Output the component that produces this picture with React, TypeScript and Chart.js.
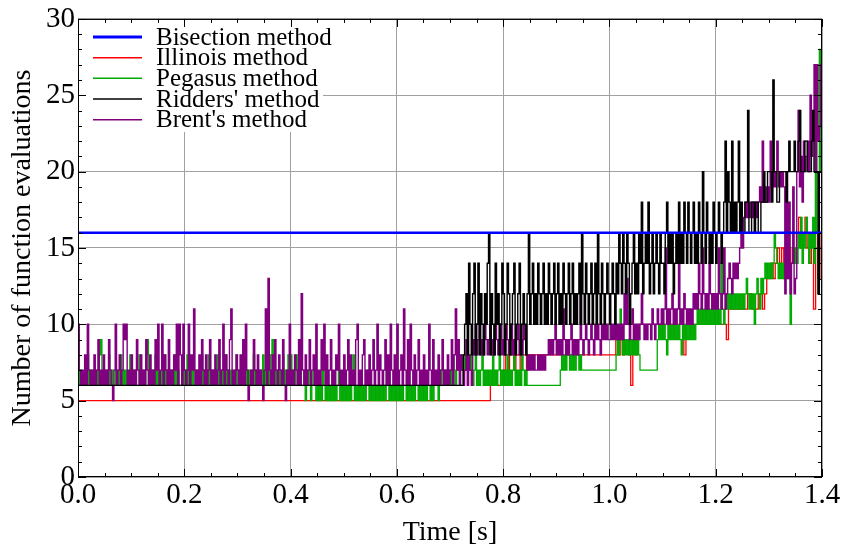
import React, { useEffect, useRef } from "react";
import { Chart, registerables } from "chart.js";

Chart.register(...registerables);

// Sampling periods of the recorded iteration counts (seconds)
const DT_FINE = 0.0025;
const DT_COARSE = 0.004;
const T_END = 1.4;

// Axis ticks
const X_TICK_VALUES = [0, 0.2, 0.4, 0.6, 0.8, 1.0, 1.2, 1.4];
const X_TICK_LABELS = ["0.0", "0.2", "0.4", "0.6", "0.8", "1.0", "1.2", "1.4"];
const Y_TICK_VALUES = [0, 5, 10, 15, 20, 25, 30];
const Y_TICK_LABELS = ["0", "5", "10", "15", "20", "25", "30"];

// Bisection: fixed number of evaluations
const BISECTION = [16];

// Illinois: constant 5 until it starts to climb at 0.776 s
const ILLINOIS_LEAD = [5];
const ILLINOIS_MAIN = [
  6, 6, 6, 6, 6, 6,
  7, 8, 7, 8, 8, 7, 8, 8, 7, 8,
  8, 7, 8, 8, 8, 8, 8, 8, 8, 8,
  8, 8, 8, 8, 8, 8, 8, 8, 8, 8,
  8, 8, 8, 8, 8, 8, 8, 8, 8, 8,
  8, 8, 8, 8, 8, 8, 8, 8, 8, 8,
  8, 8, 8, 9, 8, 9, 8, 9, 9, 8,
  6, 9, 8, 9, 10, 10, 10, 10, 10, 10,
  10, 10, 10, 10, 10, 10, 10, 10, 10, 10,
  10, 10, 10, 10, 10, 8, 10, 10, 10, 10,
  10, 10, 10, 10, 10, 10, 10, 10, 10, 10,
  10, 10, 10, 10, 10, 9, 11, 11, 11, 11,
  11, 11, 11, 11, 11, 12, 12, 11, 11, 11,
  12, 12, 11, 12, 13, 13, 14, 13, 14, 15,
  14, 15, 13, 14, 15, 14, 15, 14, 16, 17,
  15, 16, 17, 15, 14, 16, 11, 16, 13, 16,
];

// Pegasus, one block per 0.2 s (fine sampling)
const PEGASUS_0 = [
  7, 6, 7, 6, 6, 7, 6, 8, 6, 7,
  6, 7, 6, 6, 7, 6, 8, 9, 6, 7,
  6, 7, 6, 8, 6, 7, 6, 6, 7, 6,
  7, 6, 8, 6, 7, 6, 7, 6, 6, 8,
  6, 7, 6, 7, 6, 6, 8, 7, 6, 7,
  6, 8, 9, 6, 7, 6, 7, 6, 8, 6,
  7, 6, 6, 7, 6, 8, 6, 7, 6, 7,
  6, 7, 6, 8, 6, 7, 6, 6, 7, 6,
];
const PEGASUS_1 = [
  7, 6, 8, 6, 7, 6, 7, 6, 6, 7,
  6, 7, 6, 8, 6, 7, 6, 7, 8, 6,
  7, 6, 7, 6, 6, 8, 6, 7, 6, 7,
  6, 8, 6, 7, 6, 7, 6, 6, 7, 8,
  6, 7, 6, 7, 8, 6, 7, 6, 7, 6,
  7, 6, 8, 6, 7, 6, 6, 7, 6, 8,
  6, 7, 6, 7, 6, 8, 9, 6, 7, 6,
  7, 6, 7, 6, 8, 6, 7, 6, 8, 7,
];
const PEGASUS_2 = [
  8, 6, 7, 6, 8, 7, 6, 7, 6, 6,
  7, 5, 6, 7, 6, 5, 6, 7, 6, 5,
  6, 5, 6, 5, 7, 6, 5, 6, 5, 6,
  5, 6, 5, 6, 5, 6, 7, 5, 6, 5,
  6, 5, 6, 5, 6, 5, 6, 8, 5, 6,
  5, 6, 5, 6, 5, 6, 5, 6, 7, 5,
  6, 5, 6, 5, 6, 5, 6, 5, 6, 5,
  6, 5, 7, 6, 5, 6, 5, 6, 5, 6,
];
const PEGASUS_3 = [
  5, 6, 5, 6, 5, 6, 6, 5, 6, 5,
  6, 5, 6, 5, 6, 6, 5, 6, 5, 6,
  5, 6, 5, 6, 6, 5, 6, 5, 6, 6,
  6, 5, 6, 7, 6, 6, 7, 6, 7, 6,
  7, 6, 8, 7, 6, 7, 8, 7, 8, 7,
  8, 7, 8, 7, 8, 7, 8, 6, 7, 8,
  6, 7, 6, 7, 8, 6, 7, 6, 7, 6,
  7, 6, 8, 6, 7, 6, 7, 8, 6, 7,
];
const PEGASUS_4 = [
  6, 7, 6, 8, 6, 7, 6, 7, 8, 6,
  7, 6, 7, 6, 8, 7, 6, 7, 6, 6,
  6, 6, 6, 6, 6, 6, 6, 6, 6, 6,
  6, 6, 6, 6, 6, 6, 6, 6, 6, 6,
  6, 6, 6, 7, 8, 7, 8, 7, 9, 8,
  7, 8, 7, 8, 7, 9, 8, 7, 8, 7,
  7, 7, 7, 7, 7, 7, 7, 7, 7, 7,
  7, 7, 7, 7, 7, 7, 7, 7, 7, 7,
];
const PEGASUS_5 = [
  7, 7, 7, 7, 7, 8, 9, 8, 11, 9,
  8, 9, 8, 9, 8, 9, 8, 9, 8, 9,
  8, 9, 8, 7, 7, 7, 7, 7, 7, 7,
  7, 7, 7, 7, 7, 7, 9, 10, 9, 10,
  9, 10, 9, 8, 10, 9, 10, 9, 10, 9,
  10, 9, 10, 9, 8, 10, 9, 10, 9, 10,
  9, 10, 9, 10, 9, 10, 11, 10, 11, 10,
  11, 10, 11, 10, 11, 10, 11, 10, 11, 10,
];
const PEGASUS_6 = [
  11, 10, 11, 10, 14, 11, 10, 11, 12, 11,
  12, 11, 12, 11, 12, 11, 12, 11, 12, 11,
  12, 11, 12, 13, 12, 11, 12, 11, 12, 10,
  12, 13, 12, 11, 13, 12, 13, 14, 13, 14,
  13, 14, 13, 14, 16, 15, 14, 13, 14, 13,
  14, 13, 15, 14, 13, 14, 10, 14, 15, 14,
  15, 14, 16, 15, 17, 14, 16, 15, 17, 16,
  14, 16, 15, 17, 14, 23, 16, 12, 28, 20,
];

// Ridders: flat 6, then the noisy part from 0.725 s (fine sampling)
const RIDDERS_LEAD = [6];
const RIDDERS_3 = [
  6, 6, 6, 6, 6, 6, 6, 6, 6, 6,
  8, 10, 12, 8, 14, 10, 8, 12, 14, 8,
  10, 14, 8, 12, 10, 8, 12, 10, 14, 16,
  8, 12, 10, 8, 14, 10, 12, 8, 10, 14,
];
const RIDDERS_4 = [
  12, 8, 10, 14, 12, 8, 10, 12, 14, 8,
  10, 12, 14, 8, 10, 12, 10, 8, 12, 16,
  10, 12, 14, 10, 12, 10, 14, 12, 10, 12,
  14, 10, 12, 10, 14, 12, 10, 12, 14, 10,
  12, 14, 10, 12, 10, 14, 12, 10, 12, 14,
  10, 12, 14, 10, 12, 10, 12, 14, 10, 16,
  12, 10, 14, 12, 10, 12, 14, 10, 12, 14,
  10, 16, 12, 10, 14, 12, 10, 12, 14, 12,
];
const RIDDERS_5 = [
  10, 12, 14, 12, 10, 14, 12, 16, 14, 12,
  16, 14, 12, 16, 14, 10, 12, 14, 16, 12,
  14, 12, 16, 14, 18, 12, 14, 16, 14, 18,
  12, 14, 16, 12, 14, 16, 14, 12, 16, 14,
  14, 12, 16, 18, 14, 16, 14, 16, 12, 14,
  16, 14, 18, 14, 16, 14, 18, 16, 14, 18,
  16, 14, 16, 18, 14, 16, 14, 18, 16, 14,
  20, 16, 14, 18, 16, 14, 16, 14, 18, 16,
];
const RIDDERS_6 = [
  14, 16, 18, 16, 14, 16, 18, 22, 16, 20,
  18, 16, 22, 16, 18, 16, 18, 22, 16, 18,
  16, 16, 18, 18, 24, 16, 16, 18, 18, 16,
  18, 18, 16, 16, 18, 18, 20, 18, 18, 20,
  20, 20, 18, 26, 20, 20, 18, 18, 20, 20,
  20, 20, 20, 18, 20, 22, 20, 20, 20, 22,
  20, 20, 22, 24, 20, 20, 20, 22, 22, 20,
  20, 20, 22, 24, 20, 20, 20, 12, 20, 20,
];

// Brent, one block per 0.2 s (fine sampling)
const BRENT_0 = [
  10, 7, 6, 7, 6, 8, 6, 10, 7, 6,
  7, 6, 8, 6, 7, 9, 6, 7, 6, 8,
  6, 7, 6, 9, 7, 6, 5, 7, 10, 6,
  7, 8, 6, 7, 10, 9, 10, 6, 7, 6,
  8, 6, 7, 6, 9, 7, 6, 8, 6, 7,
  6, 9, 7, 6, 8, 6, 7, 6, 9, 7,
  10, 6, 7, 10, 6, 8, 7, 6, 9, 6,
  7, 6, 8, 7, 10, 6, 10, 8, 6, 10,
];
const BRENT_1 = [
  7, 6, 7, 10, 6, 8, 7, 11, 6, 7,
  6, 8, 6, 9, 7, 6, 8, 6, 7, 9,
  6, 7, 6, 8, 6, 7, 9, 6, 7, 10,
  6, 8, 7, 6, 9, 11, 6, 7, 6, 8,
  7, 6, 8, 6, 9, 6, 10, 7, 5, 6,
  7, 6, 9, 7, 6, 8, 6, 7, 6, 5,
  7, 11, 6, 13, 7, 6, 8, 6, 9, 7,
  6, 8, 7, 6, 9, 6, 5, 7, 6, 10,
];
const BRENT_2 = [
  6, 7, 6, 8, 7, 6, 9, 6, 12, 7,
  6, 8, 6, 7, 9, 6, 7, 8, 6, 10,
  6, 7, 6, 9, 7, 10, 6, 8, 6, 7,
  9, 6, 7, 6, 8, 7, 10, 6, 7, 6,
  8, 6, 7, 9, 6, 8, 6, 7, 6, 9,
  10, 6, 7, 6, 8, 9, 6, 7, 6, 8,
  6, 7, 9, 6, 7, 10, 6, 8, 7, 6,
  7, 9, 6, 8, 6, 10, 7, 6, 8, 6,
];
const BRENT_3 = [
  10, 6, 7, 8, 6, 11, 7, 6, 9, 6,
  10, 7, 6, 8, 6, 7, 9, 6, 7, 6,
  8, 6, 7, 6, 10, 7, 6, 9, 6, 7,
  6, 8, 6, 7, 9, 6, 7, 6, 8, 6,
  7, 9, 6, 8, 11, 7, 9, 6, 8, 7,
  6, 7, 9, 6, 8, 7, 6, 9, 8, 10,
  8, 9, 10, 8, 9, 8, 10, 9, 8, 9,
  10, 8, 9, 8, 10, 9, 8, 9, 10, 8,
];
const BRENT_4 = [
  9, 8, 10, 9, 8, 9, 10, 8, 9, 8,
  9, 10, 8, 9, 8, 10, 9, 8, 7, 8,
  7, 8, 7, 8, 7, 7, 8, 7, 8, 7,
  8, 7, 8, 8, 9, 8, 9, 8, 9, 10,
  8, 9, 8, 9, 8, 11, 9, 8, 9, 8,
  9, 10, 8, 9, 8, 9, 8, 9, 12, 9,
  8, 9, 10, 9, 8, 9, 10, 9, 8, 10,
  9, 10, 9, 8, 10, 9, 10, 9, 10, 9,
];
const BRENT_5 = [
  9, 10, 9, 10, 9, 10, 9, 10, 9, 10,
  9, 12, 10, 13, 10, 9, 10, 11, 9, 10,
  9, 10, 9, 10, 12, 10, 9, 10, 9, 10,
  10, 9, 11, 10, 9, 10, 11, 10, 10, 11,
  10, 11, 15, 10, 11, 10, 11, 12, 10, 11,
  10, 11, 14, 10, 11, 10, 12, 11, 10, 11,
  10, 11, 10, 12, 11, 12, 11, 14, 12, 11,
  15, 12, 11, 12, 11, 14, 12, 11, 12, 11,
];
const BRENT_6 = [
  12, 11, 15, 12, 11, 12, 15, 11, 12, 13,
  14, 13, 12, 14, 13, 14, 13, 14, 15, 17,
  15, 17, 18, 17, 18, 17, 18, 17, 18, 17,
  18, 17, 18, 19, 18, 22, 18, 19, 18, 19,
  18, 22, 19, 20, 19, 20, 22, 19, 20, 19,
  20, 19, 12, 20, 13, 18, 12, 14, 19, 12,
  13, 20, 24, 19, 21, 18, 22, 20, 21, 22,
  20, 25, 21, 22, 27, 20, 27, 22, 23, 27,
];

type Block = { t0: number; dt: number; values: number[] };

function blocksToPoints(blocks: Block[]) {
  const pts: { x: number; y: number }[] = [];
  blocks.forEach((b) => {
    b.values.forEach((v, j) => pts.push({ x: b.t0 + j * b.dt, y: v }));
  });
  pts.push({ x: T_END, y: pts[pts.length - 1].y });
  return pts;
}

const fine = (t0: number, values: number[]): Block => ({ t0, dt: DT_FINE, values });
const coarse = (t0: number, values: number[]): Block => ({ t0, dt: DT_COARSE, values });

const SERIES = [
  {
    label: "Bisection method",
    color: "#0000ff",
    width: 2.6,
    legendWidth: 3,
    order: 0,
    blocks: [coarse(0, BISECTION)],
  },
  {
    label: "Illinois method",
    color: "#ff0000",
    width: 1.3,
    legendWidth: 1.5,
    order: 4,
    blocks: [coarse(0, ILLINOIS_LEAD), coarse(0.776, ILLINOIS_MAIN)],
  },
  {
    label: "Pegasus method",
    color: "#00aa00",
    width: 1.3,
    legendWidth: 1.5,
    order: 3,
    blocks: [
      fine(0.0, PEGASUS_0),
      fine(0.2, PEGASUS_1),
      fine(0.4, PEGASUS_2),
      fine(0.6, PEGASUS_3),
      fine(0.8, PEGASUS_4),
      fine(1.0, PEGASUS_5),
      fine(1.2, PEGASUS_6),
    ],
  },
  {
    label: "Ridders' method",
    color: "#000000",
    width: 1.4,
    legendWidth: 1.5,
    order: 1,
    blocks: [
      coarse(0, RIDDERS_LEAD),
      fine(0.7, RIDDERS_3),
      fine(0.8, RIDDERS_4),
      fine(1.0, RIDDERS_5),
      fine(1.2, RIDDERS_6),
    ],
  },
  {
    label: "Brent's method",
    color: "#800080",
    width: 1.4,
    legendWidth: 1.5,
    order: 2,
    blocks: [
      fine(0.0, BRENT_0),
      fine(0.2, BRENT_1),
      fine(0.4, BRENT_2),
      fine(0.6, BRENT_3),
      fine(0.8, BRENT_4),
      fine(1.0, BRENT_5),
      fine(1.2, BRENT_6),
    ],
  },
];

const SERIF = "'Liberation Serif', 'Times New Roman', serif";

// Legend panel, box frame and inward minor/major ticks
const frameLegendPlugin = {
  id: "frameLegend",
  afterDatasetsDraw(chart: any) {
    const { ctx, chartArea: a, scales } = chart;
    const xs = scales.x;
    const ys = scales.y;
    ctx.save();

    // legend panel (opaque)
    ctx.fillStyle = "#ffffff";
    ctx.fillRect(a.left + 1, a.top + 1, 244, 112);
    ctx.font = `25px ${SERIF}`;
    ctx.textBaseline = "middle";
    ctx.textAlign = "left";
    SERIES.forEach((s, i) => {
      const y = a.top + 18 + i * 20.7;
      ctx.beginPath();
      ctx.strokeStyle = s.color;
      ctx.lineWidth = s.legendWidth;
      ctx.moveTo(a.left + 15, y);
      ctx.lineTo(a.left + 64, y);
      ctx.stroke();
      ctx.fillStyle = "#000000";
      ctx.fillText(s.label, a.left + 78, y + 1);
    });

    // frame
    ctx.strokeStyle = "#000000";
    ctx.lineWidth = 1;
    ctx.strokeRect(a.left + 0.5, a.top + 0.5, a.right - a.left - 1, a.bottom - a.top - 1);

    // ticks pointing inwards on all four sides
    ctx.beginPath();
    for (let k = 0; k <= 28; k++) {
      const v = k * 0.05;
      const px = Math.round(xs.getPixelForValue(v)) + 0.5;
      const len = k % 4 === 0 ? 8 : 4;
      ctx.moveTo(px, a.bottom);
      ctx.lineTo(px, a.bottom - len);
      ctx.moveTo(px, a.top);
      ctx.lineTo(px, a.top + len);
    }
    for (let k = 0; k <= 30; k++) {
      const py = Math.round(ys.getPixelForValue(k)) + 0.5;
      const len = k % 5 === 0 ? 8 : 4;
      ctx.moveTo(a.left, py);
      ctx.lineTo(a.left + len, py);
      ctx.moveTo(a.right, py);
      ctx.lineTo(a.right - len, py);
    }
    ctx.stroke();
    ctx.restore();
  },
};

export default function App() {
  const canvasRef = useRef<HTMLCanvasElement | null>(null);

  useEffect(() => {
    document.body.style.margin = "0";
    const canvas = canvasRef.current;
    if (!canvas) return;

    const datasets = SERIES.map((s) => ({
      label: s.label,
      data: blocksToPoints(s.blocks),
      borderColor: s.color,
      backgroundColor: s.color,
      borderWidth: s.width,
      pointRadius: 0,
      stepped: true as const,
      tension: 0,
      fill: false,
      order: s.order,
    }));

    const chart = new Chart(canvas, {
      type: "line",
      data: { datasets },
      options: {
        responsive: false,
        animation: false,
        devicePixelRatio: 1,
        layout: { padding: { top: 0, right: 20, left: 0, bottom: 0 } },
        plugins: {
          legend: { display: false },
          tooltip: { enabled: false },
        },
        scales: {
          x: {
            type: "linear",
            min: 0,
            max: T_END,
            afterBuildTicks: (scale: any) => {
              scale.ticks = X_TICK_VALUES.map((value) => ({ value }));
            },
            afterFit: (scale: any) => {
              scale.height = 72;
            },
            ticks: {
              autoSkip: false,
              maxRotation: 0,
              padding: 1,
              color: "#000000",
              font: { family: SERIF, size: 29 },
              callback: (_v: any, i: number) => X_TICK_LABELS[i],
            },
            grid: { color: "rgb(160,160,160)", lineWidth: 1, drawTicks: false },
            border: { display: false },
            title: {
              display: true,
              text: "Time [s]",
              color: "#000000",
              font: { family: SERIF, size: 28 },
              padding: { top: 0, bottom: 0 },
            },
          },
          y: {
            type: "linear",
            min: 0,
            max: 30,
            afterBuildTicks: (scale: any) => {
              scale.ticks = Y_TICK_VALUES.map((value) => ({ value }));
            },
            afterFit: (scale: any) => {
              scale.width = 78;
            },
            ticks: {
              autoSkip: false,
              padding: 3,
              color: "#000000",
              font: { family: SERIF, size: 29, lineHeight: 1.1 },
              callback: (_v: any, i: number) => Y_TICK_LABELS[i],
            },
            grid: { color: "rgb(160,160,160)", lineWidth: 1, drawTicks: false },
            border: { display: false },
            title: {
              display: true,
              text: "Number of function evaluations",
              color: "#000000",
              font: { family: SERIF, size: 28 },
              padding: { top: 6, bottom: 0 },
            },
          },
        },
      },
      plugins: [frameLegendPlugin],
    });

    return () => chart.destroy();
  }, []);

  return (
    <div style={{ width: 842, height: 549 }}>
      <canvas ref={canvasRef} width={842} height={549} style={{ display: "block" }} />
    </div>
  );
}
